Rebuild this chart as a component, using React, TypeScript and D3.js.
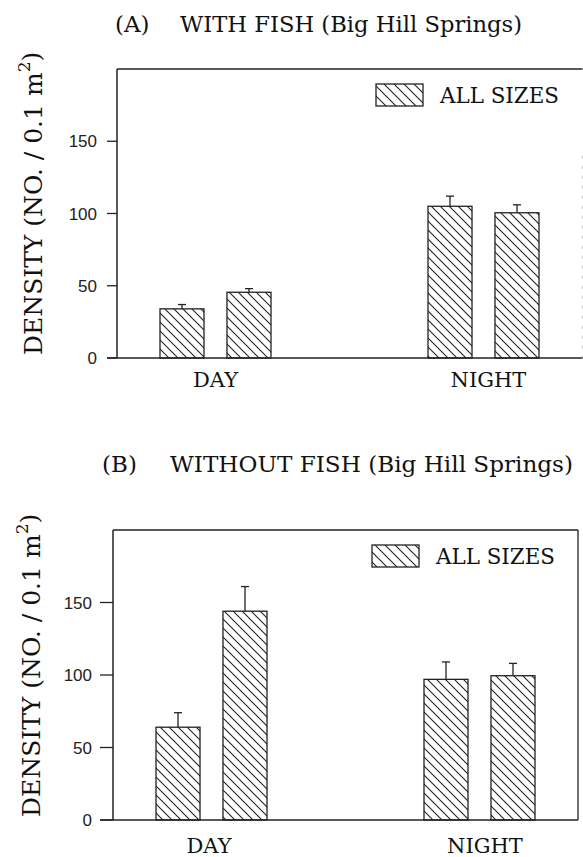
import React from "react";
import * as d3 from "d3";

const groups = ["DAY", "NIGHT"];
const subBars = ["first", "second"];
const yTicks = [0, 50, 100, 150];

// Panel A: with fish
const aMeans = [34, 45.5, 105, 100.5];
const aErrors = [3, 2.5, 7, 5.5];
// Panel B: without fish
const bMeans = [64, 144, 97, 99.5];
const bErrors = [10, 17, 12, 8.5];

const panelTags = ["(A)", "(B)"];
const panelTitles = ["WITH FISH (Big Hill Springs)", "WITHOUT FISH (Big Hill Springs)"];
const legendLabel = "ALL SIZES";

const SERIF = "'DejaVu Serif', 'Liberation Serif', serif";
const SANS = "'Liberation Sans', Arial, sans-serif";

type PanelProps = {
  means: number[];
  errors: number[];
  left: number;
  right: number;
  top: number;
  bottom: number;
  tag: string;
  title: string;
  tagX: number;
  titleX: number;
  titleY: number;
  titleLen: number;
  tickLen: number;
  tickGap: number;
  rightBorderFaint: boolean;
  labelX: number;
  labelBottom: number;
  dayLabelX: number;
  nightLabelX: number;
  xLabelY: number;
};

function Panel(p: PanelProps) {
  const y = d3.scaleLinear().domain([0, 200]).range([p.bottom, p.top]);
  const gx = d3
    .scalePoint<string>()
    .domain(groups)
    .range([p.left + 98.5, p.left + 366.5]);
  const sx = d3
    .scaleBand<string>()
    .domain(subBars)
    .range([-55.5, 55.5])
    .paddingInner(0.343)
    .paddingOuter(0);
  const bw = sx.bandwidth();
  const bars = groups.flatMap((g, gi) =>
    subBars.map((s, si) => ({
      g,
      s,
      v: p.means[gi * 2 + si],
      e: p.errors[gi * 2 + si],
      x: (gx(g) as number) + (sx(s) as number),
    }))
  );
  return (
    <g>
      <text x={p.tagX} y={p.titleY} fontFamily={SERIF} fontSize={23} fill="#111">
        {p.tag}
      </text>
      <text
        x={p.titleX}
        y={p.titleY}
        fontFamily={SERIF}
        fontSize={23}
        fill="#111"
        textLength={p.titleLen}
        lengthAdjust="spacingAndGlyphs"
      >
        {p.title}
      </text>
      {/* frame */}
      <line x1={p.left} x2={p.right} y1={p.top} y2={p.top} stroke="#222" strokeWidth={1.3} />
      <line x1={p.left} x2={p.left} y1={p.top} y2={p.bottom} stroke="#222" strokeWidth={1.5} />
      <line
        x1={p.right}
        x2={p.right}
        y1={p.rightBorderFaint ? y(140) : p.top}
        y2={p.bottom}
        stroke={p.rightBorderFaint ? "#ccc" : "#222"}
        strokeWidth={1.3}
        strokeDasharray={p.rightBorderFaint ? "3 7" : undefined}
      />
      <line x1={p.left - p.tickLen} x2={p.right} y1={p.bottom} y2={p.bottom} stroke="#222" strokeWidth={1.5} />
      {/* y ticks */}
      {yTicks.map((t) => (
        <g key={t}>
          <line x1={p.left - p.tickLen} x2={p.left} y1={y(t)} y2={y(t)} stroke="#222" strokeWidth={1.3} />
          <text
            x={p.left - p.tickLen - p.tickGap}
            y={y(t)}
            dy="0.36em"
            textAnchor="end"
            fontFamily={SANS}
            fontSize={17}
            fill="#222"
          >
            {t}
          </text>
        </g>
      ))}
      {/* y label */}
      <text
        transform={`translate(${p.labelX},${p.labelBottom}) rotate(-90)`}
        textAnchor="start"
        fontFamily={SERIF}
        fontSize={25}
        fill="#111"
      >
        DENSITY (NO. / 0.1 m
        <tspan dy={-12} fontSize={17}>2</tspan>
        <tspan dy={10}>)</tspan>
      </text>
      {/* bars */}
      {bars.map((b) => (
        <g key={b.g + b.s}>
          <line
            x1={b.x + bw / 2}
            x2={b.x + bw / 2}
            y1={y(b.v)}
            y2={y(b.v + b.e)}
            stroke="#222"
            strokeWidth={1.3}
          />
          <line
            x1={b.x + bw / 2 - 4}
            x2={b.x + bw / 2 + 4}
            y1={y(b.v + b.e)}
            y2={y(b.v + b.e)}
            stroke="#222"
            strokeWidth={1.3}
          />
          <rect
            x={b.x}
            y={y(b.v)}
            width={bw}
            height={p.bottom - y(b.v)}
            fill="url(#hatch)"
            stroke="#222"
            strokeWidth={1.3}
          />
        </g>
      ))}
      {/* x labels */}
      <text x={p.dayLabelX} y={p.xLabelY} textAnchor="middle" fontFamily={SERIF} fontSize={21} fill="#111">
        DAY
      </text>
      <text x={p.nightLabelX} y={p.xLabelY} textAnchor="middle" fontFamily={SERIF} fontSize={21} fill="#111">
        NIGHT
      </text>
      {/* legend */}
      <rect
        x={p.left + 259}
        y={p.top + 15}
        width={47}
        height={22}
        fill="url(#hatchLegend)"
        stroke="#222"
        strokeWidth={1.3}
      />
      <text
        x={p.left + 323}
        y={p.top + 34}
        fontFamily={SERIF}
        fontSize={21.5}
        fill="#111"
        textLength={119}
        lengthAdjust="spacingAndGlyphs"
      >
        {legendLabel}
      </text>
    </g>
  );
}

export default function App() {
  return (
    <svg width={583} height={857} style={{ display: "block", position: "absolute", left: 0, top: 0, background: "#fff" }}>
      <defs>
        <pattern id="hatch" patternUnits="userSpaceOnUse" width={9} height={9}>
          <path d="M-1,-1 L10,10 M-5.5,3.5 L5.5,14.5 M3.5,-5.5 L14.5,5.5" stroke="#222" strokeWidth={1.1} />
        </pattern>
        <pattern id="hatchLegend" patternUnits="userSpaceOnUse" width={10} height={10}>
          <path d="M-1,-1 L11,11 M-6,4 L6,16 M4,-6 L16,6" stroke="#222" strokeWidth={1.1} />
        </pattern>
      </defs>
      <rect x={0} y={0} width={583} height={857} fill="#fff" />
      <Panel
        means={aMeans}
        errors={aErrors}
        left={117}
        right={582.5}
        top={69}
        bottom={358}
        tag={panelTags[0]}
        title={panelTitles[0]}
        tagX={115}
        titleX={180}
        titleY={32}
        titleLen={342}
        tickLen={10}
        tickGap={10}
        rightBorderFaint={true}
        labelX={42}
        labelBottom={355}
        dayLabelX={215.5}
        nightLabelX={488.5}
        xLabelY={387}
      />
      <Panel
        means={bMeans}
        errors={bErrors}
        left={113}
        right={578}
        top={530}
        bottom={820}
        tag={panelTags[1]}
        title={panelTitles[1]}
        tagX={102}
        titleX={170}
        titleY={472}
        titleLen={403}
        tickLen={13}
        tickGap={8}
        rightBorderFaint={false}
        labelX={40}
        labelBottom={817}
        dayLabelX={209}
        nightLabelX={485}
        xLabelY={853}
      />
    </svg>
  );
}
